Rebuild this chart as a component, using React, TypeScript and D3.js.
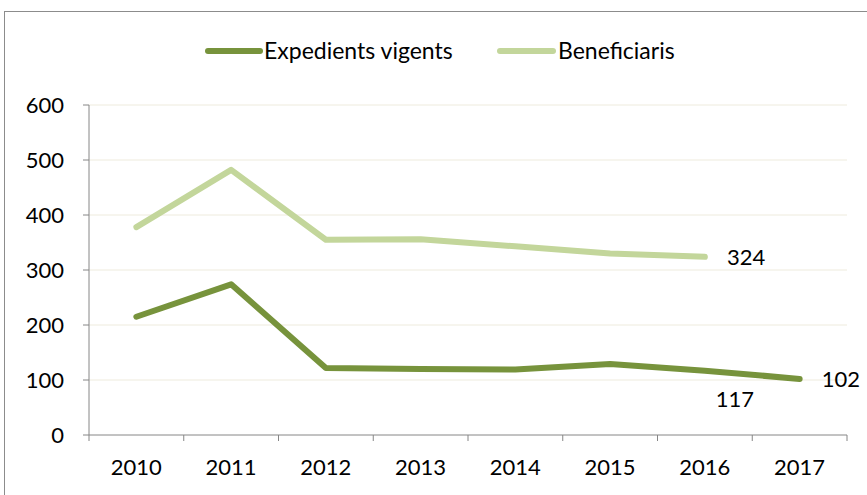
import React, {JSX} from "react";
import * as d3 from "d3";

const years = ["2010", "2011", "2012", "2013", "2014", "2015", "2016", "2017"];
const expedients = [215, 274, 122, 120, 119, 129, 117, 102];
const beneficiaris = [378, 482, 355, 356, 343, 330, 324];
const yTicks = [0, 100, 200, 300, 400, 500, 600];

const darkGreen = "#77933C";
const lightGreen = "#C3D69B";
const font = "Lato, 'Open Sans', sans-serif";

const App = (): JSX.Element => {
    const width = 867
    const height = 495
    const marginLeft = 89
    const marginRight = 20
    const marginTop = 105
    const plotBottom = 435
    const x = d3.scaleBand(years, [marginLeft, width - marginRight]);
    const y = d3.scaleLinear([0, 600], [plotBottom, marginTop]);
    const cx = (i: number) => (x(years[i]) as number) + x.bandwidth() / 2
    const line = d3.line<number>((d, i) => cx(i), y)

    const edges = years.map(d => x(d) as number).concat(width - marginRight)

    return (
        <div style={{position: "absolute", left: 0, top: 0}}>
            <svg width={width} height={height} style={{display: "block"}}>
                <rect x={4.5} y={11.5} width={width + 10} height={height + 10} fill="white" stroke="#8c8c8c" strokeWidth={1}/>
                {/* grid */}
                {yTicks.filter(t => t > 0).map(t => (
                    <line key={t} x1={marginLeft} x2={width - marginRight} y1={y(t)} y2={y(t)} stroke="#EEEBDD" strokeWidth={1}/>
                ))}
                {/* y axis */}
                <line x1={marginLeft} x2={marginLeft} y1={marginTop} y2={plotBottom} stroke="#868686"/>
                {yTicks.map(t => (
                    <g key={t}>
                        <line x1={marginLeft - 6} x2={marginLeft} y1={y(t)} y2={y(t)} stroke="#868686"/>
                        <text x={64} y={y(t)} dy="0.36em" textAnchor="end" fontFamily={font} fontSize={22} fill="#000">{t}</text>
                    </g>
                ))}
                {/* x axis */}
                <line x1={marginLeft} x2={width - marginRight} y1={plotBottom} y2={plotBottom} stroke="#868686"/>
                {edges.map((e, i) => (
                    <line key={i} x1={e} x2={e} y1={plotBottom} y2={plotBottom + 6} stroke="#868686"/>
                ))}
                {years.map((d, i) => (
                    <text key={d} x={cx(i)} y={plotBottom + 32} dy="0.36em" textAnchor="middle" fontFamily={font} fontSize={22} fill="#000">{d}</text>
                ))}
                {/* lines */}
                <path d={line(beneficiaris) as string} fill="none" stroke={lightGreen} strokeWidth={6} strokeLinecap="round" strokeLinejoin="round"/>
                <path d={line(expedients) as string} fill="none" stroke={darkGreen} strokeWidth={6} strokeLinecap="round" strokeLinejoin="round"/>
                {/* data labels */}
                <text x={cx(6) + 22} y={y(324)} dy="0.36em" fontFamily={font} fontSize={22}>{beneficiaris[6]}</text>
                <text x={cx(6) + 30} y={y(117) + 28} dy="0.36em" textAnchor="middle" fontFamily={font} fontSize={22}>{expedients[6]}</text>
                <text x={cx(7) + 22} y={y(102)} dy="0.36em" fontFamily={font} fontSize={22}>{expedients[7]}</text>
                {/* legend */}
                <line x1={208} x2={260} y1={51} y2={51} stroke={darkGreen} strokeWidth={6} strokeLinecap="round"/>
                <text x={264} y={51} dy="0.36em" fontFamily={font} fontSize={23}>Expedients vigents</text>
                <line x1={500} x2={553} y1={51} y2={51} stroke={lightGreen} strokeWidth={6} strokeLinecap="round"/>
                <text x={558} y={51} dy="0.36em" fontFamily={font} fontSize={23}>Beneficiaris</text>
            </svg>
        </div>
    )
}

export default App;
